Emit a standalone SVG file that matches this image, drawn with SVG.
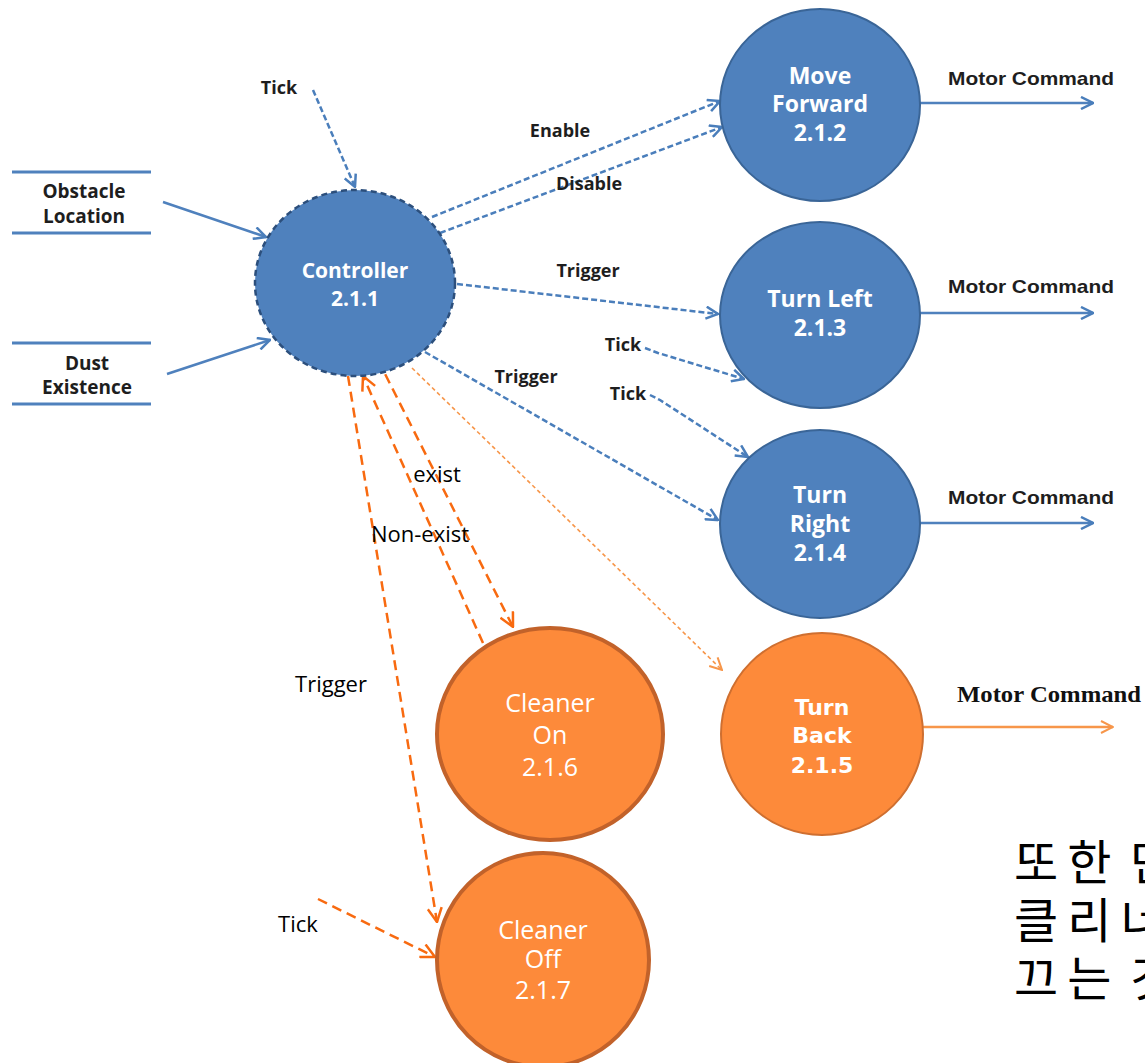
<svg xmlns="http://www.w3.org/2000/svg" width="1145" height="1063" viewBox="0 0 1145 1063">
<defs>
<style>
.bnode{fill:#4f81bd;stroke:#3a6597;stroke-width:2}
.ctrl{fill:#4f81bd;stroke:#2c4f7c;stroke-width:2.5;stroke-dasharray:6 4}
.onode{fill:#fd8a3a;stroke:#c2622a;stroke-width:4}
.tback{fill:#fd8a3a;stroke:#cf6f30;stroke-width:2}
.btxt{font-family:"Open Sans","Noto Sans",sans-serif;font-weight:700;font-size:23px;fill:#fff;text-anchor:middle}
.tbtxt{font-family:"DejaVu Sans",sans-serif;font-weight:700;font-size:22px;fill:#fff;text-anchor:middle}
.otxt{font-family:"Open Sans","Noto Sans",sans-serif;font-size:25px;fill:#fff;text-anchor:middle}
.lbl{font-family:"Open Sans","Noto Sans",sans-serif;font-weight:700;font-size:18px;fill:#1e1e1e;text-anchor:middle}
.store{font-family:"Open Sans","Noto Sans",sans-serif;font-weight:700;font-size:19px;fill:#1e1e1e;text-anchor:middle}
.olbl{font-family:"Open Sans","Noto Sans",sans-serif;font-size:22px;fill:#000;text-anchor:middle}
.mc{font-family:"Liberation Sans",Arial,sans-serif;font-weight:700;font-size:19px;fill:#1e1e1e}
.mcs{font-family:"Liberation Serif","Times New Roman",serif;font-weight:700;font-size:24px;fill:#111}
.kr{font-family:"Noto Sans CJK KR","Noto Sans",sans-serif;font-size:48px;letter-spacing:9px;word-spacing:-10px;fill:#000}
.bsolid{fill:none;stroke:#4f81bd;stroke-width:2.5}
.bdash{fill:none;stroke:#4a7ebb;stroke-width:2.5;stroke-dasharray:6 3}
.odash{fill:none;stroke:#f86a10;stroke-width:2.5;stroke-dasharray:10 6}
.othin{fill:none;stroke:#f7964a;stroke-width:1.6;stroke-dasharray:4 3}
.osolid{fill:none;stroke:#f7964a;stroke-width:2.5}
.storeline{stroke:#4f81bd;stroke-width:3}
</style>
<marker id="ab" viewBox="0 0 14 14" refX="13" refY="7" markerWidth="14" markerHeight="14" markerUnits="userSpaceOnUse" orient="auto">
<path d="M1,1 L13,7 L1,13" fill="none" stroke="#4a7ebb" stroke-width="2.5"/>
</marker>
<marker id="ao" viewBox="0 0 16 16" refX="15" refY="8" markerWidth="16" markerHeight="16" markerUnits="userSpaceOnUse" orient="auto">
<path d="M1,1 L15,8 L1,15" fill="none" stroke="#f86a10" stroke-width="2.5"/>
</marker>
<marker id="al" viewBox="0 0 14 14" refX="13" refY="7" markerWidth="14" markerHeight="14" markerUnits="userSpaceOnUse" orient="auto">
<path d="M1,1 L13,7 L1,13" fill="none" stroke="#f7964a" stroke-width="2"/>
</marker>
</defs>
<rect width="1145" height="1063" fill="#fff"/>

<g id="store-obstacle">
<line class="storeline" x1="12" y1="172" x2="151" y2="172"/>
<line class="storeline" x1="12" y1="233" x2="151" y2="233"/>
<text class="store" x="84" y="198">Obstacle</text>
<text class="store" x="84" y="223">Location</text>
</g>
<g id="store-dust">
<line class="storeline" x1="12" y1="343" x2="151" y2="343"/>
<line class="storeline" x1="12" y1="404" x2="151" y2="404"/>
<text class="store" x="87" y="370">Dust</text>
<text class="store" x="87" y="394">Existence</text>
</g>

<g id="connectors">
<line class="bsolid" x1="163" y1="202" x2="266" y2="237" marker-end="url(#ab)"/>
<line class="bsolid" x1="167" y1="374" x2="270" y2="340" marker-end="url(#ab)"/>
<line class="bdash" x1="313" y1="90" x2="355" y2="187" marker-end="url(#ab)"/>
<line class="bdash" x1="432" y1="217" x2="720" y2="101" marker-end="url(#ab)"/>
<line class="bdash" x1="440" y1="233" x2="722" y2="127" marker-end="url(#ab)"/>
<line class="bdash" x1="457" y1="284" x2="718" y2="314" marker-end="url(#ab)"/>
<line class="bdash" x1="425" y1="352" x2="718" y2="520" marker-end="url(#ab)"/>
<polyline class="bdash" points="645,348 658,353 744,379" marker-end="url(#ab)"/>
<polyline class="bdash" points="650,395 660,400 748,457" marker-end="url(#ab)"/>
<line class="bsolid" x1="920" y1="103" x2="1093" y2="103" marker-end="url(#ab)"/>
<line class="bsolid" x1="920" y1="313" x2="1093" y2="313" marker-end="url(#ab)"/>
<line class="bsolid" x1="920" y1="523" x2="1093" y2="523" marker-end="url(#ab)"/>
<line class="othin" x1="412" y1="368" x2="722" y2="670" marker-end="url(#al)"/>
<line class="osolid" x1="922" y1="727" x2="1113" y2="727" marker-end="url(#al)"/>
<line class="odash" x1="378" y1="360" x2="513" y2="627" marker-end="url(#ao)"/>
<line class="odash" x1="483" y1="643" x2="363" y2="376" marker-end="url(#ao)"/>
<line class="odash" x1="348" y1="376" x2="437" y2="922" marker-end="url(#ao)"/>
<line class="odash" x1="318" y1="899" x2="435" y2="957" marker-end="url(#ao)"/>
<text class="lbl" x="279" y="94">Tick</text>
<text class="lbl" x="560" y="137">Enable</text>
<text class="lbl" x="589" y="190">Disable</text>
<text class="lbl" x="588" y="277">Trigger</text>
<text class="lbl" x="526" y="383">Trigger</text>
<text class="lbl" x="623" y="351">Tick</text>
<text class="lbl" x="628" y="400">Tick</text>
<text class="mc" x="948" y="85" textLength="166" lengthAdjust="spacingAndGlyphs">Motor Command</text>
<text class="mc" x="948" y="293" textLength="166" lengthAdjust="spacingAndGlyphs">Motor Command</text>
<text class="mc" x="948" y="504" textLength="166" lengthAdjust="spacingAndGlyphs">Motor Command</text>
<text class="mcs" x="957" y="702" textLength="184" lengthAdjust="spacingAndGlyphs">Motor Command</text>
<text class="olbl" x="437" y="482">exist</text>
<text class="olbl" x="420" y="542">Non-exist</text>
<text class="olbl" x="331" y="692">Trigger</text>
<text class="olbl" x="298" y="932">Tick</text>
</g>

<g id="controller">
<ellipse class="ctrl" cx="355" cy="283" rx="100" ry="93"/>
<text class="btxt" x="355" y="278" style="font-size:21px">Controller</text>
<text class="btxt" x="355" y="306" style="font-size:21px">2.1.1</text>
</g>
<g id="move-forward">
<ellipse class="bnode" cx="820" cy="105" rx="100" ry="96"/>
<text class="btxt" x="820" y="84">Move</text>
<text class="btxt" x="820" y="112">Forward</text>
<text class="btxt" x="820" y="141">2.1.2</text>
</g>
<g id="turn-left">
<ellipse class="bnode" cx="820" cy="315" rx="100" ry="93"/>
<text class="btxt" x="820" y="307">Turn Left</text>
<text class="btxt" x="820" y="336">2.1.3</text>
</g>
<g id="turn-right">
<ellipse class="bnode" cx="820" cy="524" rx="100" ry="94"/>
<text class="btxt" x="820" y="503">Turn</text>
<text class="btxt" x="820" y="532">Right</text>
<text class="btxt" x="820" y="561">2.1.4</text>
</g>
<g id="turn-back">
<ellipse class="tback" cx="822" cy="734" rx="101" ry="101"/>
<text class="tbtxt" x="822" y="715">Turn</text>
<text class="tbtxt" x="822" y="743">Back</text>
<text class="tbtxt" x="822" y="773">2.1.5</text>
</g>
<g id="cleaner-on">
<ellipse class="onode" cx="550" cy="734" rx="113" ry="106"/>
<text class="otxt" x="550" y="712">Cleaner</text>
<text class="otxt" x="550" y="744">On</text>
<text class="otxt" x="550" y="776">2.1.6</text>
</g>
<g id="cleaner-off">
<ellipse class="onode" cx="543" cy="960" rx="106" ry="107"/>
<text class="otxt" x="543" y="939">Cleaner</text>
<text class="otxt" x="543" y="968">Off</text>
<text class="otxt" x="543" y="999">2.1.7</text>
</g>

<g id="note">
<text class="kr" x="1014" y="880">또한 단</text>
<text class="kr" x="1014" y="938">클리너</text>
<text class="kr" x="1014" y="996">끄는 것</text>
</g>
</svg>
